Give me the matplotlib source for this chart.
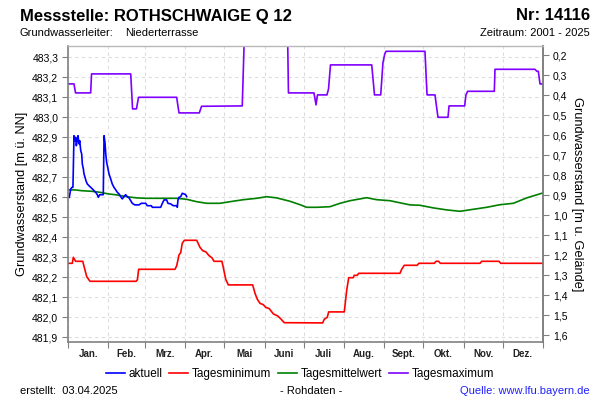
import matplotlib
matplotlib.use('Agg')
import matplotlib.pyplot as plt
import numpy as np
from matplotlib.ticker import FixedLocator, FuncFormatter, NullFormatter
from matplotlib.lines import Line2D

plt.rcParams['font.family'] = ['Liberation Sans', 'DejaVu Sans']

# ---------------- data ----------------
month_labels = ['Jan.', 'Feb.', 'Mrz.', 'Apr.', 'Mai', 'Juni', 'Juli', 'Aug.', 'Sept.', 'Okt.', 'Nov.', 'Dez.']
month_starts = [0, 31, 59, 90, 120, 151, 181, 212, 243, 273, 304, 334, 365]
left_ticks = [481.9, 482.0, 482.1, 482.2, 482.3, 482.4, 482.5, 482.6, 482.7, 482.8, 482.9, 483.0, 483.1, 483.2, 483.3]
right_ticks = [0.2, 0.3, 0.4, 0.5, 0.6, 0.7, 0.8, 0.9, 1.0, 1.1, 1.2, 1.3, 1.4, 1.5, 1.6]
ground_level = 483.51

aktuell_day = [1.0, 2.1, 3.1, 3.8, 4.6, 5.4, 5.9, 6.4, 7.1, 7.7, 8.5, 9.0, 9.8, 10.5, 11.0, 11.8,
               12.3, 13.1, 13.8, 14.8, 16.1, 17.4, 18.7, 20.0, 21.3, 22.5, 23.3, 24.4, 27.1, 27.7,
               28.4, 29.0, 29.7, 30.5, 31.5, 32.8, 34.0, 35.3, 36.7, 37.9, 39.2, 40.5, 41.7, 43.0,
               44.3, 45.6, 46.9, 48.2, 49.4, 51.3, 54.6, 56.3, 59.7, 60.9, 64.0, 64.8, 71.2, 72.5,
               73.8, 75.8, 76.8, 78.9, 80.9, 83.5, 84.0, 84.5, 85.3, 86.6, 87.8, 89.1, 90.4, 91.2]
aktuell_val = [482.600, 482.642, 482.650, 482.650, 482.908, 482.883, 482.900, 482.858, 482.883, 482.908,
               482.867, 482.883, 482.833, 482.817, 482.767, 482.742, 482.717, 482.700, 482.683, 482.667,
               482.658, 482.650, 482.642, 482.633, 482.625, 482.613, 482.600, 482.613, 482.613, 482.908,
               482.875, 482.817, 482.775, 482.750, 482.717, 482.692, 482.667, 482.650, 482.637, 482.625,
               482.617, 482.603, 482.592, 482.603, 482.613, 482.603, 482.597, 482.583, 482.570, 482.562,
               482.562, 482.570, 482.570, 482.558, 482.558, 482.550, 482.550, 482.570, 482.587, 482.587,
               482.570, 482.567, 482.558, 482.558, 482.550, 482.587, 482.600, 482.603, 482.620, 482.617,
               482.613, 482.603]

min_day = [0, 3.3, 4.1, 5.9, 11.3, 14.4, 16.9, 52.3, 53.3, 54.3, 82.2, 83.5, 85.3, 86.6, 87.8, 89.4,
           98.9, 101.4, 103.5, 106.0, 108.1, 110.7, 112.2, 118.3, 119.3, 121.2, 123.2, 141.9, 143.7,
           145.5, 147.5, 150.1, 151.9, 154.7, 157.8, 161.1, 163.4, 166.2, 195.7, 196.9, 199.2, 200.3,
           212.3, 214.2, 215.7, 219.2, 220.0, 222.3, 223.4, 255.1, 256.4, 258.4, 268.4, 269.5, 281.5,
           282.8, 284.8, 286.1, 316.6, 317.9, 331.2, 332.5, 365]
min_val = [482.27, 482.27, 482.30, 482.28, 482.28, 482.203, 482.18, 482.18, 482.187, 482.24, 482.24,
           482.257, 482.312, 482.323, 482.37, 482.385, 482.385, 482.35, 482.333, 482.327, 482.31,
           482.297, 482.28, 482.28, 482.25, 482.19, 482.162, 482.162, 482.12, 482.09, 482.07, 482.063,
           482.05, 482.043, 482.017, 482.007, 481.993, 481.973, 481.972, 481.99, 482.0, 482.027,
           482.027, 482.137, 482.198, 482.198, 482.21, 482.21, 482.22, 482.22, 482.24, 482.26, 482.26,
           482.27, 482.27, 482.28, 482.28, 482.27, 482.27, 482.28, 482.28, 482.27, 482.27]

mean_day = [0, 5.4, 10.5, 18.2, 24.6, 31.0, 37.4, 45.1, 52.8, 60.5, 83.5, 91.2, 98.9, 106.6, 116.8,
            124.5, 134.7, 145.0, 152.7, 160.4, 170.6, 178.3, 183.4, 191.1, 201.3, 209.0, 216.7, 229.5,
            237.2, 247.4, 262.8, 270.5, 280.7, 291.0, 301.2, 311.4, 321.7, 332.0, 342.2, 352.5, 365]
mean_val = [482.637, 482.637, 482.633, 482.630, 482.625, 482.617, 482.612, 482.603, 482.597, 482.595,
            482.595, 482.590, 482.578, 482.570, 482.570, 482.578, 482.588, 482.595, 482.603, 482.597,
            482.580, 482.563, 482.550, 482.550, 482.553, 482.570, 482.583, 482.598, 482.588, 482.583,
            482.562, 482.560, 482.547, 482.537, 482.530, 482.540, 482.550, 482.563, 482.570, 482.597,
            482.622]

max_day = [0, 4.6, 5.8, 17.4, 18.1, 48.2, 49.6, 52.6, 54.2, 83.5, 85.3, 100.9, 102.6, 133.9, 136.4,
           168.3, 169.4, 189.0, 190.6, 191.7, 199.0, 200.2, 201.7, 233.4, 235.5, 240.3, 242.0, 243.4,
           244.4, 274.3, 275.9, 282.0, 284.3, 292.0, 292.8, 304.8, 305.8, 307.1, 327.6, 328.1, 358.8,
           360.3, 361.4, 362.7, 365]
max_val = [483.167, 483.167, 483.122, 483.122, 483.217, 483.217, 483.042, 483.042, 483.10, 483.10,
           483.022, 483.022, 483.055, 483.057, 483.60, 483.60, 483.122, 483.122, 483.062, 483.112,
           483.112, 483.142, 483.262, 483.262, 483.112, 483.112, 483.272, 483.317, 483.33, 483.33,
           483.112, 483.112, 483.0, 483.0, 483.057, 483.057, 483.112, 483.13, 483.13, 483.24, 483.24,
           483.23, 483.23, 483.167, 483.167]

# ---------------- figure ----------------
fig = plt.figure(figsize=(6, 4), dpi=100)
ax = fig.add_axes([68 / 600, 1 - 342 / 400, 475 / 600, 296 / 400])

c_akt, c_min, c_mean, c_max = '#0000ff', '#ff0000', '#008000', '#8000ff'
lw = 1.2
ax.plot(max_day, max_val, color=c_max, lw=lw)
ax.plot(mean_day, mean_val, color=c_mean, lw=lw)
ax.plot(min_day, min_val, color=c_min, lw=lw)
ax.plot(aktuell_day, aktuell_val, color=c_akt, lw=lw)

ax.set_xlim(0, 365)
ax.set_ylim(481.8765, 483.3565)

comma = FuncFormatter(lambda v, p: f"{v:.1f}".replace('.', ','))
ax.yaxis.set_major_locator(FixedLocator(left_ticks))
ax.yaxis.set_major_formatter(comma)
ax.xaxis.set_major_locator(FixedLocator(month_starts))
ax.xaxis.set_major_formatter(NullFormatter())
centers = [(month_starts[i] + month_starts[i + 1]) / 2 for i in range(12)]
ax.xaxis.set_minor_locator(FixedLocator(centers))
ax.set_xticklabels(month_labels, minor=True, fontweight='bold')
ax.tick_params(axis='x', which='minor', length=0, pad=5, labelsize=7, colors='#222222')
ax.tick_params(axis='x', which='major', length=4, color='#808080')
ax.tick_params(axis='y', which='major', length=4, color='#808080', labelsize=7.5, pad=3)

ax.grid(True, which='major', color='#dcdcdc', linestyle=(0, (3, 3)), lw=0.8)
ax.set_axisbelow(True)
for s in ['left', 'bottom', 'right']:
    ax.spines[s].set_color('#808080')
    ax.spines[s].set_linewidth(1.2)
ax.spines['top'].set_color('#b8b8b8')
ax.spines['top'].set_linewidth(1.0)

ax.set_ylabel('Grundwasserstand [m ü. NN]', fontsize=9.2, labelpad=3)

sec = ax.secondary_yaxis('right', functions=(lambda y: ground_level - y, lambda d: ground_level - d))
sec.yaxis.set_major_locator(FixedLocator(right_ticks))
sec.yaxis.set_major_formatter(comma)
sec.tick_params(axis='y', length=4, color='#808080', labelsize=7.5, pad=3)
sec.spines['right'].set_color('#808080')
sec.spines['right'].set_linewidth(1.2)
sec.set_ylabel('Grundwasserstand [m u. Gelände]', fontsize=9.2, rotation=270, labelpad=11)

# header
fig.text(20 / 600, 1 - 16 / 400, 'Messstelle: ROTHSCHWAIGE Q 12', fontsize=12, fontweight='bold',
         ha='left', va='center')
fig.text(590 / 600, 1 - 16 / 400, 'Nr: 14116', fontsize=12, fontweight='bold', ha='right', va='center')
fig.text(20 / 600, 1 - 33 / 400, 'Grundwasserleiter:', fontsize=8, ha='left', va='center')
fig.text(125 / 600, 1 - 33 / 400, 'Niederterrasse', fontsize=8, ha='left', va='center')
fig.text(590 / 600, 1 - 33 / 400, 'Zeitraum: 2001 - 2025', fontsize=8, ha='right', va='center')

# legend
handles = [Line2D([], [], color=c, lw=1.2) for c in (c_akt, c_min, c_mean, c_max)]
fig.legend(handles, ['aktuell', 'Tagesminimum', 'Tagesmittelwert', 'Tagesmaximum'],
           loc='center', bbox_to_anchor=(300 / 600, 1 - 374 / 400), ncol=4, frameon=False,
           fontsize=8.5, handlelength=1.6, handletextpad=0.3, columnspacing=0.6)

# footer
fig.text(20 / 600, 1 - 391 / 400, 'erstellt:  03.04.2025', fontsize=8, ha='left', va='center')
fig.text(311 / 600, 1 - 391 / 400, '- Rohdaten -', fontsize=8, ha='center', va='center')
fig.text(590 / 600, 1 - 391 / 400, 'Quelle: www.lfu.bayern.de', fontsize=8, ha='right', va='center', color='#2020ff')

fig.savefig('out.png', dpi=100)
